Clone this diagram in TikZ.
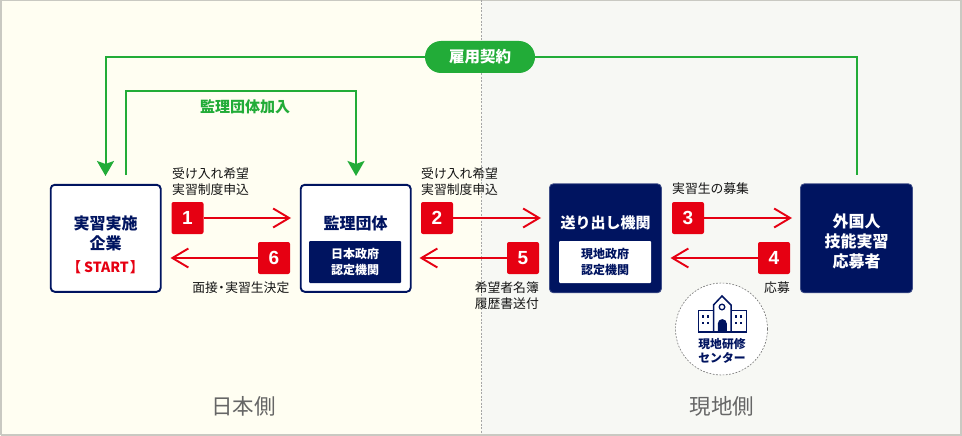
\documentclass[tikz,border=0pt]{standalone}
\usepackage{fontspec}
\setmainfont{Noto Sans CJK JP}
\newfontfamily\numfont{Liberation Sans}
\usetikzlibrary{arrows.meta}
\definecolor{navy}{HTML}{001460}
\definecolor{grn}{HTML}{22AC38}
\definecolor{redc}{HTML}{E60012}
\definecolor{leftbg}{HTML}{FFFEF2}
\definecolor{rightbg}{HTML}{F7F8F4}
\definecolor{edge}{HTML}{C9C9C2}
\newcommand{\fs}[2]{\fontsize{#1}{#2}\selectfont}
\tikzset{
  x=1pt,y=-1pt,
  whitebox/.style={minimum width=110pt,minimum height=107pt,inner sep=0pt,rounded corners=4pt,line width=1.9pt,draw=navy,fill=white},
  navybox/.style={minimum width=112pt,minimum height=109pt,inner sep=0pt,rounded corners=4pt,line width=0.8pt,draw=navy!75!white,fill=navy},
  innerbox/.style={minimum width=92pt,minimum height=42pt,inner sep=0pt,rounded corners=1pt,align=center,font=\fs{12}{16}\bfseries},
  title/.style={inner sep=0pt,align=center,font=\fs{16}{20}\bfseries},
  badge/.style={minimum size=32pt,inner sep=0pt,fill=redc,rounded corners=2pt,text=white,font=\numfont\fs{19}{20}\bfseries},
  redarrow/.style={draw=redc,line width=2pt,-{Straight Barb[length=16pt,width=19pt,line width=1.9pt]}},
  greenline/.style={draw=grn,line width=2pt},
  greenarrow/.style={greenline,-{Stealth[length=15pt,width=17pt,inset=3pt]}},
  lab/.style={inner sep=0pt,font=\fs{12.8}{16},text=black!92},
  side/.style={inner sep=0pt,font=\fs{21.5}{24},text=black!60},
}
\begin{document}
\begin{tikzpicture}
\useasboundingbox (0,0) rectangle (962,436);
% backgrounds
\fill[leftbg] (0,0) rectangle (481,436);
\fill[rightbg] (481,0) rectangle (962,436);
\draw[edge,line width=1.5pt] (1,435) -- (1,0.7) -- (961,0.7) -- (961,435) -- (1,435);
\draw[black!35,line width=0.6pt,dash pattern=on 2pt off 1.5pt] (481,0) -- (481,434);
% main boxes
\node[whitebox] (b1) at (105.7,238.3) {};
\node[whitebox] (b2) at (355.7,238.3) {};
\node[navybox] (b3) at (605.4,238.3) {};
\node[navybox] (b4) at (856.4,238.3) {};
\node[title,text=navy] (t1a) at (105.5,223) {実習実施};
\node[title,text=navy] (t1b) at (105.5,243) {企業};
\node[title,text=redc,font=\fs{14}{16}\bfseries] (t1c) at (105.5,267) {【\kern3pt START\kern1pt 】};
\node[title,text=navy] (t2) at (355.5,223) {監理団体};
\node[innerbox,fill=navy,text=white] (i2) at (355,262) {日本政府\\認定機関};
\node[title,text=white,font=\fs{15}{20}\bfseries] (t3) at (605.5,223) {送り出し機関};
\node[innerbox,fill=white,text=navy] (i3) at (605,262) {現地政府\\認定機関};
\node[title,text=white] (t4a) at (856.5,221) {外国人};
\node[title,text=white] (t4b) at (856.5,241) {技能実習};
\node[title,text=white] (t4c) at (856.5,261) {応募者};
% pill and green connectors
\node[fill=grn,rounded corners=16pt,minimum width=110pt,minimum height=32pt,inner sep=0pt,text=white,font=\fs{15.5}{16}\bfseries] (pill) at (480,57) {雇用契約};
\coordinate (g1a) at (105.5,176);
\coordinate (g1s) at (125.5,175);
\coordinate (g2a) at (356,176);
\coordinate (g4s) at (857,175);
\draw[greenarrow] (pill.west) -| (g1a);
\draw[greenline] (pill.east) -| (g4s);
\draw[greenarrow] (g1s) -- (125.5,91) -| (g2a);
\node[inner sep=0pt,text=grn,font=\fs{15}{16}\bfseries] (gl) at (245,107) {監理団体加入};
% badges
\node[badge] (n1) at (187.5,218) {1};
\node[badge] (n6) at (274,258) {6};
\node[badge] (n2) at (437,218) {2};
\node[badge] (n5) at (523,258) {5};
\node[badge] (n3) at (688,218) {3};
\node[badge] (n4) at (774,258) {4};
\coordinate (a1) at (291,218);
\coordinate (a6) at (170.5,258);
\coordinate (a2) at (541,218);
\coordinate (a5) at (419.5,258);
\coordinate (a3) at (792,218);
\coordinate (a4) at (670.5,258);
\draw[redarrow] (n1) -- (a1);
\draw[redarrow] (n6) -- (a6);
\draw[redarrow] (n2) -- (a2);
\draw[redarrow] (n5) -- (a5);
\draw[redarrow] (n3) -- (a3);
\draw[redarrow] (n4) -- (a4);
% labels
\node[lab,anchor=west] (l1a) at (172,174) {受け入れ希望};
\node[lab,anchor=west] (l1b) at (172,190) {実習制度申込};
\node[lab,anchor=east] (l6) at (289.5,288) {面接\kern-2.7pt・\kern-2.7pt 実習生決定};
\node[lab,anchor=west] (l2a) at (421,174) {受け入れ希望};
\node[lab,anchor=west] (l2b) at (421,190) {実習制度申込};
\node[lab,anchor=east] (l5a) at (539,288) {希望者名簿};
\node[lab,anchor=east] (l5b) at (539,304) {履歴書送付};
\node[lab,anchor=west] (l3) at (672,189) {実習生の募集};
\node[lab,anchor=east] (l4) at (790,288) {応募};
% training centre
\node[circle,minimum size=92pt,inner sep=0pt,fill=white,draw=black!55,line width=0.6pt,dash pattern=on 1.8pt off 1.5pt] (c) at (721.5,329) {};
\begin{scope}[line width=1.5pt,line join=miter]
  \draw[navy] (698.5,332) -- (698.5,310.5) -- (713.5,310.5);
  \draw[navy] (746.5,332) -- (746.5,310.5) -- (731,310.5);
  \draw[navy] (713.5,332) -- (713.5,305) -- (722,296) -- (731,305) -- (731,332);
  \draw[navy,line width=1.3pt] (722,307) circle[radius=2.8];
  \draw[navy,line width=2pt] (697.8,331.5) -- (747.2,331.5);
  \fill[navy] (717.8,332) -- (717.8,323.6) arc[start angle=180,end angle=360,radius=4.5] -- (726.8,332) -- cycle;
  \foreach \x in {703,708,736,741}
    \foreach \y in {316.5,323}
      \fill[navy] (\x-1.3,\y-1.3) rectangle (\x+1.3,\y+1.3);
\end{scope}
\node[inner sep=0pt,text=navy,font=\fs{11.8}{14}\bfseries] (c1) at (722,344) {現地研修};
\node[inner sep=0pt,text=navy,font=\fs{11.8}{14}\bfseries] (c2) at (722,358) {センター};
% sides
\node[side] (s1) at (243.5,406) {日本側};
\node[side] (s2) at (722,406) {現地側};
\end{tikzpicture}
\end{document}
